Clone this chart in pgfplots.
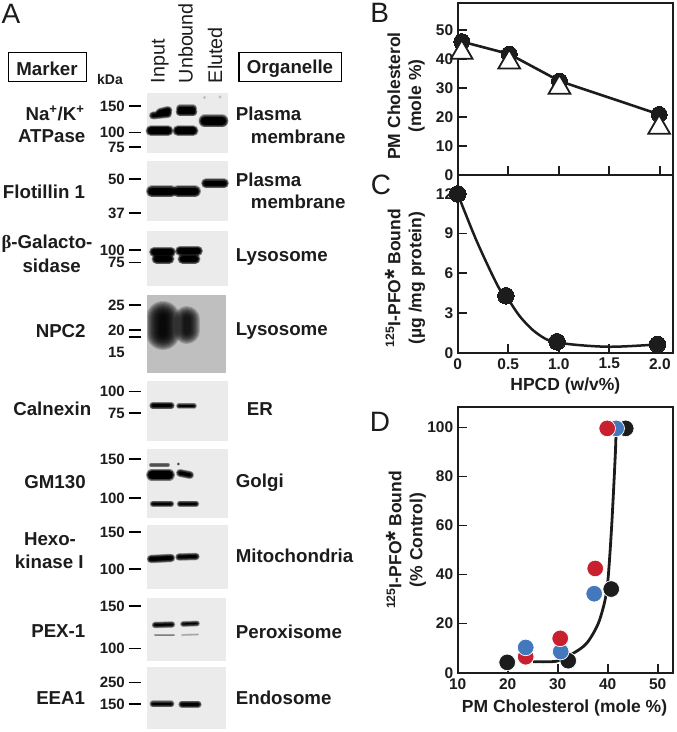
\documentclass[border=0pt]{standalone}
\usepackage{fontspec}
\setmainfont{Liberation Sans}
\newfontfamily\serifgreek{Liberation Serif}
\usepackage{pgfplots}
\pgfplotsset{compat=1.18}
\definecolor{ink}{HTML}{1C1C1C}
\definecolor{dotred}{HTML}{C8202E}
\definecolor{dotblue}{HTML}{4478BC}
\definecolor{gelbg}{HTML}{EBEBEB}
\definecolor{gelnpc}{HTML}{BFBFBF}

% one soft band on a gel: x1 y1 x2 y2 width, in picture pixels
\newcommand{\band}[5]{%
  \foreach \extra in {3,2.2,1.5,0.7,0}{%
    \draw[line cap=round, line width={(#5+\extra)*1pt}, black, opacity=.28] (#1,#2) -- (#3,#4);
  }
  \draw[line cap=round, line width={max(#5-1.5,0.3)*1pt}, black] (#1,#2) -- (#3,#4);
}
% faint band, no core
\newcommand{\faint}[6]{%
  \foreach \extra in {1.5,0.8,0}{%
    \draw[line cap=round, line width={(#5+\extra)*1pt}, black, opacity=#6] (#1,#2) -- (#3,#4);
  }
}
% size marker: y, label
\newcommand{\kda}[2]{%
  \node[anchor=east, font=\fontsize{15}{15}\bfseries, inner sep=0pt] at (125,#1) {#2};
  \draw[line width=1.6pt] (128.5,#1) -- (140.5,#1);
}
\newcommand{\labelfont}{\fontsize{18.7}{18.7}\bfseries}
\newcommand{\marker}[3]{\node[font=\labelfont, inner sep=0pt] at (#1,#2) {#3};}
\newcommand{\organelle}[3]{\node[anchor=west, font=\labelfont, inner sep=0pt] at (#1,#2) {#3};}
\newcommand{\lane}[2]{\node[rotate=90, anchor=west, font=\fontsize{19.7}{19.7}\selectfont, inner sep=0pt] at (#1,83.3) {#2};}
\newcommand{\panel}[3]{\node[font=\fontsize{28}{28}\selectfont, inner sep=0pt] at (#1,#2) {#3};}

\pgfplotsset{panelaxis/.style={
    scale only axis,
    axis line style={ink, line width=1.8pt},
    tick style={ink, line width=1.7pt},
    major tick length=9pt,
    tick align=inside,
    xtick pos=bottom, ytick pos=left,
    tick label style={font=\fontsize{15.5}{16}\bfseries, text=ink},
    /pgf/number format/assume math mode=true,
    label style={font=\fontsize{17.5}{21}\bfseries, text=ink, align=center},
    clip=false,
    xticklabel style={yshift=-2pt},
    yticklabel style={xshift=-1pt},
}}

\begin{document}
\begin{tikzpicture}
\path[use as bounding box] (0,0) rectangle (677pt,732pt);

\begin{scope}[x=1pt, y=-1pt, shift={(0pt,732pt)}, text=ink]
% gels
\fill[gelbg] (147.3,93.3) rectangle (228.3,153.3);
\fill[gelbg] (147.3,161) rectangle (228.3,221);
\fill[gelbg] (147.3,230.7) rectangle (228.3,286);
\fill[gelnpc] (147.3,295) rectangle (226,373);
\fill[gelbg] (147.3,381) rectangle (227.7,440.7);
\fill[gelbg] (147.3,449.3) rectangle (227.7,517.7);
\fill[gelbg] (147.3,525) rectangle (227.7,589.3);
\fill[gelbg] (147.3,597.7) rectangle (226,661);
\fill[gelbg] (147.3,666.7) rectangle (226,729.3);
% Na/K
\band{153}{115.5}{168}{114}{5}
\band{160}{112.5}{168}{110.5}{6}
\band{180}{108.5}{193}{108.5}{5}
\band{180}{112}{193}{112}{6}
\band{151}{130.7}{168}{130.7}{8}
\band{178}{130.7}{193}{130.7}{8}
\band{205}{121}{222}{121}{10}
\fill[black!25] (204.5,97.5) circle (1.6);
\fill[black!25] (220,97) circle (1.6);
% flotillin
\band{152}{191.3}{171}{191.3}{9}
\band{178}{191.3}{195}{191.3}{9}
\band{206}{183.3}{224}{183.3}{7}
% galactosidase
\band{154}{252}{171}{252}{7}
\band{157}{259}{169}{259}{8}
\band{180}{251}{198}{251}{7}
\band{183}{259}{195}{259}{8}
% NPC2, two broad smears
\begin{scope}
\clip (147.3,295) rectangle (226,373);
\foreach \w in {34,32,...,6}{%
  \draw[line cap=round, line width=\w pt, black, opacity=.17] (163,318) -- (163,333);
}
\foreach \w in {26,24,...,6}{%
  \draw[line cap=round, line width=\w pt, black, opacity=.17] (186.5,319) -- (186.5,331);
}
\end{scope}
% calnexin
\band{153}{405.7}{171}{405.7}{4.5}
\band{179}{406}{194}{406}{2.8}
% GM130
\faint{151}{465}{168}{465}{2.5}{.3}
\band{152}{475}{169}{475}{9}
\band{180}{473}{190}{475}{5}
\band{153}{504}{171}{504}{3.5}
\band{180}{504}{196}{504}{3.5}
\fill[black!70] (178.3,464) circle (1.5);
% hexokinase
\band{151}{559}{171}{558}{5.5}
\band{179}{557}{196}{556.5}{4.5}
% PEX-1
\band{155}{625}{172}{624.5}{3.5}
\band{183}{624}{197}{623.5}{2.8}
\faint{155}{635}{174}{635}{0.8}{.18}
\faint{182}{635}{198}{634.5}{0.6}{.12}
% EEA1
\band{153}{704}{171}{704}{4}
\band{182}{704.3}{198}{704.3}{4.5}

% headers
\draw[line width=1.5pt] (8.3,52.3) rectangle (86.7,81.7);
\node[font=\labelfont, inner sep=0pt] at (47,68.5) {Marker};
\draw[line width=1.5pt] (239,52.3) rectangle (341.7,81.7);
\node[font=\labelfont, inner sep=0pt] at (290,68.5) {Organelle};
\node[font=\fontsize{14}{14}\bfseries, inner sep=0pt] at (110,79.3) {kDa};
\lane{160}{Input}
\lane{185.7}{Unbound}
\lane{215}{Eluted}

% size markers
\kda{106}{150}\kda{132.7}{100}\kda{147.3}{75}
\kda{179}{50}\kda{213.3}{37}
\kda{250}{100}\kda{262.7}{75}
\kda{305}{25}\kda{330}{20}
\draw[line width=1.6pt] (128.5,337.3) -- (140.5,337.3);
\node[anchor=east, font=\fontsize{15}{15}\bfseries, inner sep=0pt] at (125,352.3) {15};
\kda{391.7}{100}\kda{413.3}{75}
\kda{459.3}{150}\kda{498.3}{100}
\kda{532}{150}\kda{569.3}{100}
\kda{606}{150}\kda{648.7}{100}
\kda{682.7}{250}\kda{704}{150}

% left column
\marker{55}{113.3}{Na\textsuperscript{+}/K\textsuperscript{+}}
\marker{51.7}{136}{ATPase}
\marker{44}{191.7}{Flotillin 1}
\marker{47}{243.3}{{\serifgreek β}-Galacto-}
\marker{51.7}{265.7}{sidase}
\marker{60.7}{331}{NPC2}
\marker{52.3}{409.3}{Calnexin}
\marker{55}{482.3}{GM130}
\marker{50}{539}{Hexo-}
\marker{49.3}{562.3}{kinase I}
\marker{58.3}{631}{PEX-1}
\marker{60.7}{698.3}{EEA1}

% right column
\organelle{235.7}{114}{Plasma}
\organelle{250.7}{136.7}{membrane}
\organelle{235.7}{180}{Plasma}
\organelle{250.7}{202.3}{membrane}
\organelle{235.7}{257.3}{Lysosome}
\organelle{235.7}{331}{Lysosome}
\organelle{246.7}{409.3}{ER}
\organelle{235.7}{482.3}{Golgi}
\organelle{235.7}{555.7}{Mitochondria}
\organelle{235.7}{631.7}{Peroxisome}
\organelle{235.7}{698.3}{Endosome}

\panel{11}{14}{A}
\panel{379.7}{13}{B}
\panel{381}{184.5}{C}
\panel{380}{421.7}{D}
\end{scope}

% panel B
\begin{axis}[panelaxis,
    at={(457.7pt,557pt)}, anchor=south west,
    width=215.3pt, height=171.7pt,
    xmin=0, xmax=2.13, ymin=0, ymax=59.2,
    xtick={0.5,1,1.5,2}, xticklabels={},
    ytick={0,10,20,30,40,50},
    ylabel={PM Cholesterol\\(mole \%)},
    ylabel style={at={(axis description cs:-0.24,0.46)}, anchor=center},
]
\addplot[ink, line width=2.6pt, mark=*, mark size=8pt,
    mark options={fill=ink, draw=ink, line width=0pt}] coordinates {
    (0.04,46) (0.51,41.7) (1.007,32.4) (1.993,20.9)
};
\addplot[only marks, mark=triangle*, mark size=12.5pt,
    mark options={fill=white, draw=ink, line width=1.8pt}] coordinates {
    (0.04,42.2) (0.51,38.9) (1.007,30.2) (1.993,16.4)
};
\end{axis}

% panel C
\begin{axis}[panelaxis,
    at={(457.7pt,379.3pt)}, anchor=south west,
    width=215.3pt, height=177.7pt,
    xmin=0, xmax=2.13, ymin=0, ymax=13.43,
    xtick={0,0.5,1,1.5,2}, xticklabels={0,0.5,1.0,1.5,2.0},
    ytick={0,3,6,9,12},
    xlabel={HPCD (w/v\%)},
    xlabel style={at={(axis description cs:0.5,-0.19)}, anchor=center},
    ylabel={\textsuperscript{125}I-PFO\raisebox{-2.5pt}{\fontsize{26}{26}\selectfont *} Bound\\(µg /mg protein)},
    ylabel style={at={(axis description cs:-0.245,0.42)}, anchor=center},
]
\addplot[ink, line width=2.5pt, smooth, tension=0.55] coordinates {
    (0,12) (0.19,8.4) (0.40,5) (0.477,4.3) (0.62,2.7) (0.785,1.46) (0.98,0.78) (1.48,0.45) (1.977,0.63)
};
\addplot[only marks, mark=*, mark size=8.3pt,
    mark options={fill=ink, draw=ink, line width=0pt}] coordinates {
    (0,12) (0.477,4.3) (0.983,0.83) (1.977,0.63)
};
\end{axis}

% panel D
\begin{axis}[panelaxis,
    at={(457.7pt,59.3pt)}, anchor=south west,
    width=215pt, height=265.4pt,
    xmin=10, xmax=53, ymin=0, ymax=108.2,
    xtick={10,20,30,40,50},
    ytick={0,20,40,60,80,100},
    xlabel={PM Cholesterol (mole \%)},
    xlabel style={at={(axis description cs:0.497,-0.132)}, anchor=center},
    ylabel={\textsuperscript{125}I-PFO\raisebox{-2.5pt}{\fontsize{26}{26}\selectfont *} Bound\\(\% Control)},
    ylabel style={at={(axis description cs:-0.24,0.5)}, anchor=center},
]
\addplot[ink, line width=2.8pt, smooth, tension=0.5] coordinates {
    (25.1,4.5) (29.8,4.7) (33.1,7.9) (35.8,12) (38.1,20) (39.5,29.9) (40.1,39) (40.8,60) (41.5,88) (41.7,99.6)
};
\addplot[only marks, mark=*, mark size=8.3pt,
    mark options={fill=ink, draw=white, line width=0.7pt}] coordinates {
    (19.9,4.2) (32.1,4.9) (40.7,34.1) (43.6,99.6)
};
\addplot[only marks, mark=*, mark size=8.3pt,
    mark options={fill=dotred, draw=white, line width=0.7pt}] coordinates {
    (23.6,6.5)
};
\addplot[only marks, mark=*, mark size=8.3pt,
    mark options={fill=dotblue, draw=white, line width=0.7pt}] coordinates {
    (23.6,10.3) (30.6,8.6) (37.3,32.2) (41.7,99.6)
};
\addplot[only marks, mark=*, mark size=8.3pt,
    mark options={fill=dotred, draw=white, line width=0.7pt}] coordinates {
    (30.5,14) (37.5,42.5) (39.9,99.6)
};
\end{axis}
\end{tikzpicture}
\end{document}
